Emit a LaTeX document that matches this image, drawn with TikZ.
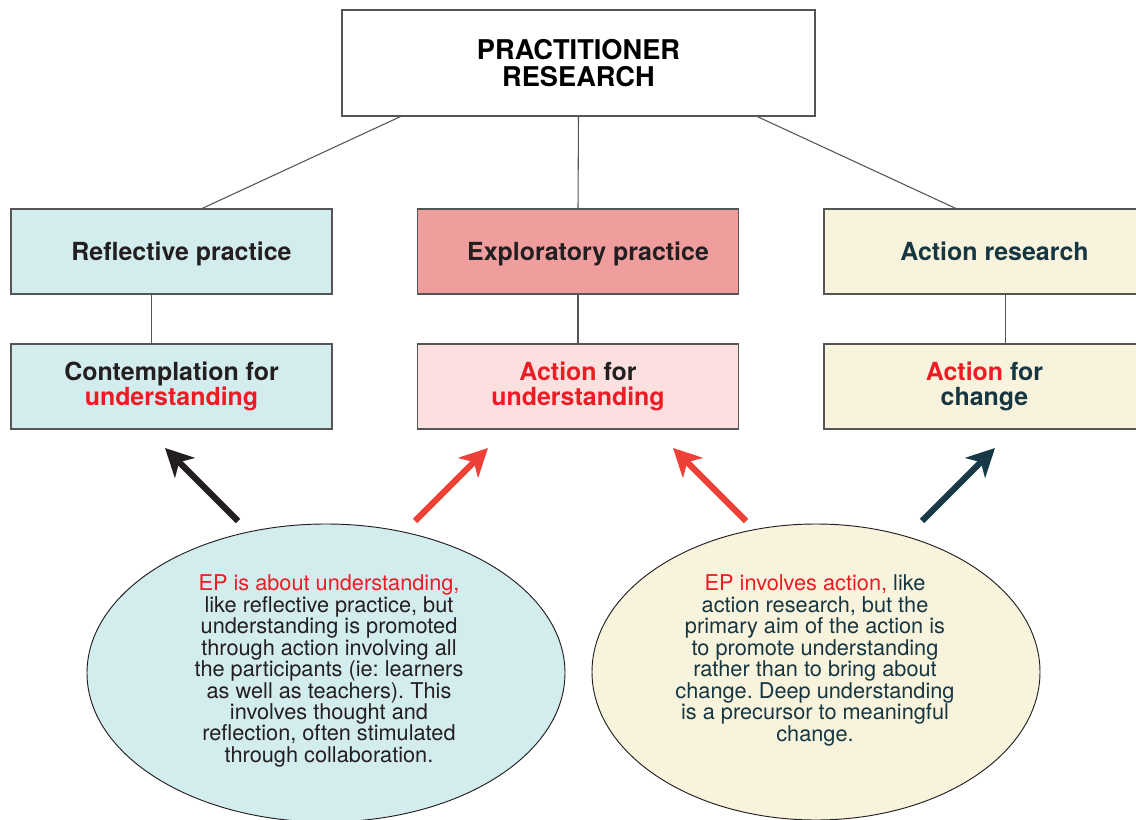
\documentclass[tikz,border=0pt]{standalone}
\usepackage{fontspec}
\setmainfont{TeX Gyre Heros}
\usetikzlibrary{shapes.geometric,arrows.meta,calc}
\definecolor{boxblue}{HTML}{D3ECEE}
\definecolor{boxred}{HTML}{EF9E9D}
\definecolor{boxpink}{HTML}{FBE0DF}
\definecolor{boxcream}{HTML}{F8F3DC}
\definecolor{txtred}{HTML}{ED1C24}
\definecolor{arrred}{HTML}{EE4036}
\definecolor{navy}{HTML}{163642}
\definecolor{arrnavy}{HTML}{183A47}
\definecolor{ink}{HTML}{231F20}
\definecolor{edge}{HTML}{555555}
\frenchspacing
\begin{document}
\frenchspacing
\begin{tikzpicture}[x=0.75pt,y=0.75pt,
  box/.style={draw=edge, line width=0.8pt, minimum width=240.75pt, minimum height=63.75pt, inner sep=0pt, align=center,
    font=\bfseries\fontsize{18.7}{18.7}\selectfont},
  toplbl/.style={font=\bfseries\fontsize{18.7}{18.7}\selectfont, xshift=7.5pt, yshift=-1.5pt, text height=13.6pt, text depth=3.8pt, inner sep=0pt},
  conn/.style={draw=edge, line width=0.8pt},
  bubble/.style={ellipse, draw=ink, line width=0.7pt, inner sep=0pt},
  bubtxt/.style={align=center, font=\fontsize{16.3}{16.1}\selectfont},
  arr/.style={line width=4.6pt, -{Stealth[length=21pt,width=21pt,inset=6pt]}}
]
\useasboundingbox (0,0) rectangle (1136,-820);
\fill[white] (0,0) rectangle (1136,-820);
\clip (0,0) rectangle (1136,-820);

% top box
\node[draw=edge, line width=0.8pt, fill=white, minimum width=354.75pt, minimum height=79.5pt, align=center,
  font=\bfseries\fontsize{20.4}{19.8}\selectfont, text=black] (top) at (578.5,-63) {PRACTITIONER\\RESEARCH};

% first row
\node[box, fill=boxblue, label={[toplbl, text=ink]center:Reflective practice}] (rp) at (171.5,-251.5) {};
\node[box, fill=boxred, label={[toplbl, text=ink]center:Exploratory practice}] (ep) at (578,-251.5) {};
\node[box, fill=boxcream, label={[toplbl, text=navy]center:Action research}] (ar) at (984.5,-251.5) {};

% second row
\node[box, fill=boxblue, text=ink] (rc) at (171.5,-386.5) {Contemplation for\\\textcolor{txtred}{understanding}};
\node[box, fill=boxpink, text=ink] (ec) at (578,-386.5) {\textcolor{txtred}{Action} for\\\textcolor{txtred}{understanding}};
\node[box, fill=boxcream, text=navy] (ac) at (984.5,-386.5) {\textcolor{txtred}{Action} for\\change};

% connectors
\draw[conn] ($(top.south west)!0.1247!(top.south east)$) -- ($(rp.north west)!0.595!(rp.north east)$);
\draw[conn] (top.south) -- (ep.north);
\draw[conn] ($(top.south west)!0.877!(top.south east)$) -- ($(ar.north west)!0.411!(ar.north east)$);
\draw[conn] ($(rp.south west)!0.439!(rp.south east)$) -- ($(rc.north west)!0.439!(rc.north east)$);
\draw[conn] (ep.south) -- (ec.north);
\draw[conn] ($(ar.south west)!0.564!(ar.south east)$) -- ($(ac.north west)!0.564!(ac.north east)$);

% ellipses
\node[bubble, fill=boxblue, minimum width=358.5pt, minimum height=223.5pt] (e1) at (326,-673) {};
\node[bubble, fill=boxcream, minimum width=336pt, minimum height=222pt] (e2) at (816,-672) {};

\node[bubtxt, text=ink] (t1) at (329,-671) {\textcolor{txtred}{EP is about understanding,}\\
like reflective practice, but\\
understanding is promoted\\
through action involving all\\
the participants (ie: learners\\
as well as teachers). This\\
involves thought and\\
reflection, often stimulated\\
through collaboration.};

\node[bubtxt, text=navy] (t2) at (815,-660.5) {\textcolor{txtred}{EP involves action,} like\\
action research, but the\\
primary aim of the action is\\
to promote understanding\\
rather than to bring about\\
change. Deep understanding\\
is a precursor to meaningful\\
change.};

% arrows
\coordinate (a1s) at (238,-521); \coordinate (a1e) at (165,-448);
\coordinate (a2s) at (415,-521); \coordinate (a2e) at (488,-448);
\coordinate (a3s) at (746,-521); \coordinate (a3e) at (673,-448);
\coordinate (a4s) at (922,-521); \coordinate (a4e) at (995,-448);
\draw[arr, draw=ink, fill=ink] (a1s) -- (a1e);
\draw[arr, draw=arrred, fill=arrred] (a2s) -- (a2e);
\draw[arr, draw=arrred, fill=arrred] (a3s) -- (a3e);
\draw[arr, draw=arrnavy, fill=arrnavy] (a4s) -- (a4e);
\end{tikzpicture}
\end{document}
